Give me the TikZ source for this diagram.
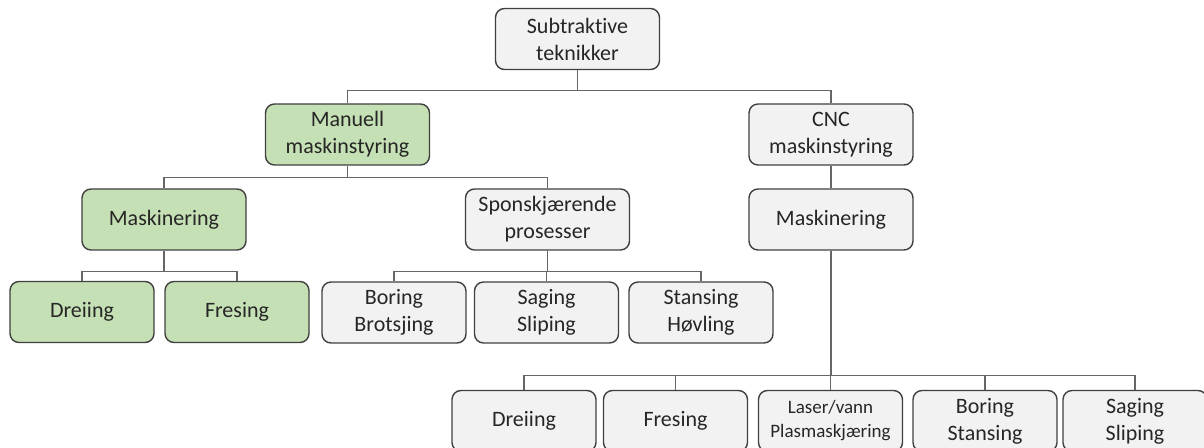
\documentclass[tikz,border=0pt]{standalone}
\usepackage{fontspec}
\setmainfont{Carlito}[Ligatures=NoCommon]
\definecolor{smartgreen}{HTML}{C5E0B4}
\definecolor{smartgrey}{HTML}{F2F2F2}
\definecolor{smartline}{HTML}{404040}
\tikzset{
 box/.style={draw=smartline, line width=0.7pt, rounded corners=4.5pt, fill=smartgrey, align=center,
  minimum width=82pt, minimum height=30.5pt, inner sep=1pt, text=black!85, font=\fontsize{11}{13.5}\selectfont},
 greenbox/.style={box, fill=smartgreen},
 leaf/.style={box, minimum width=72pt},
 link/.style={draw=black!60, line width=0.6pt}
}
\begin{document}
\begin{tikzpicture}[x=0.5pt,y=-0.5pt]
\useasboundingbox (0,0) rectangle (1204,448);
\node[box] (root) at (577.5,39) {Subtraktive\\teknikker};
\node[greenbox] (man) at (347.5,134.5) {Manuell\\maskinstyring};
\node[box] (cnc) at (831,134.5) {CNC\\maskinstyring};
\node[greenbox] (mask) at (164,219.5) {Maskinering};
\node[box] (spon) at (547.5,219.5) {Sponskjærende\\prosesser};
\node[box] (cmask) at (831,219.5) {Maskinering};
\foreach \n/\x/\t in {dre/82/Dreiing, fre/237/Fresing}
 \node[leaf, fill=smartgreen] (\n) at (\x,312) {\t};
\foreach \n/\x/\t in {bor/394/{Boring\\Brotsjing}, sag/546.5/{Saging\\Sliping}, sta/701/{Stansing\\Høvling}}
 \node[leaf] (\n) at (\x,312.5) {\t};
\foreach \n/\x/\t in {cdre/524/Dreiing, cfre/675.5/Fresing, cbor/985/{Boring\\Stansing}, csag/1135/{Saging\\Sliping}}
 \node[leaf] (\n) at (\x,421) {\t};
\node[leaf, font=\fontsize{9.5}{12}\selectfont] (clas) at (830.5,421) {Laser/vann\\Plasmaskjæring};
\foreach \c in {man,cnc}
 \draw[link] (root.south) -- ++(0,20.5) -| (\c.north);
\foreach \c in {mask,spon}
 \draw[link] (man.south) -- ++(0,12) -| (\c.north);
\draw[link] (cnc) -- (cmask);
\foreach \c in {dre,fre}
 \draw[link] (mask.south) -- ++(0,21) -| (\c.north);
\foreach \c in {bor,sag,sta}
 \draw[link] (spon.south) -- ++(0,21) -| (\c.north);
\foreach \c in {cdre,cfre,clas,cbor,csag}
 \draw[link] (cmask.south) -- ++(0,125) -| (\c.north);
\end{tikzpicture}
\end{document}
